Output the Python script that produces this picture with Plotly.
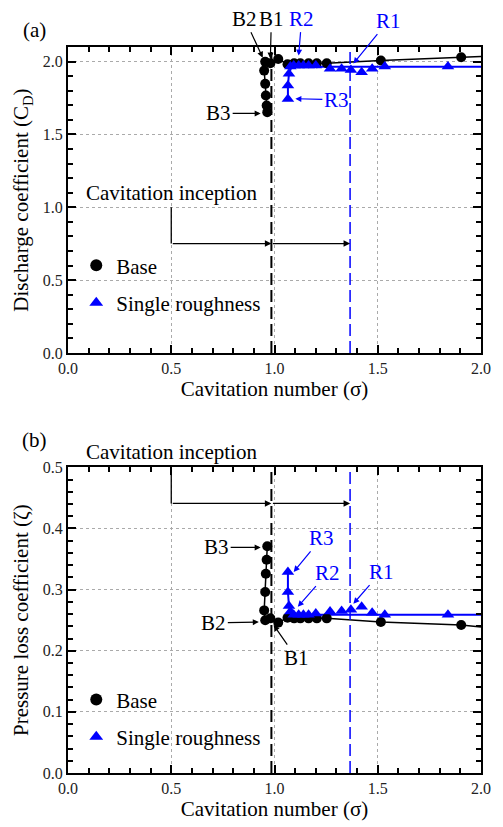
import plotly.graph_objects as go

# ---------------- data ----------------
base_sigma = [0.965, 0.962, 0.958, 0.955, 0.950, 0.955, 0.980, 1.018, 1.063, 1.095, 1.125, 1.165, 1.205, 1.253, 1.515, 1.904]
base_cd    = [1.653, 1.699, 1.767, 1.847, 1.938, 1.998, 1.988, 2.018, 1.982, 1.988, 1.988, 1.988, 1.988, 1.988, 2.007, 2.030]
base_zeta  = [0.371, 0.349, 0.326, 0.296, 0.266, 0.250, 0.253, 0.246, 0.254, 0.253, 0.253, 0.253, 0.253, 0.253, 0.247, 0.242]
base_tail_sigma = [1.904, 2.0]
base_tail_cd    = [2.030, 2.035]
base_tail_zeta  = [0.242, 0.239]

rough_sigma = [1.065, 1.065, 1.070, 1.077, 1.093, 1.117, 1.140, 1.165, 1.200, 1.269, 1.325, 1.370, 1.422, 1.473, 1.534, 1.840]
rough_cd    = [1.744, 1.836, 1.916, 1.966, 1.973, 1.973, 1.973, 1.973, 1.973, 1.950, 1.950, 1.943, 1.927, 1.950, 1.966, 1.966]
rough_zeta  = [0.329, 0.296, 0.273, 0.264, 0.259, 0.259, 0.259, 0.259, 0.261, 0.264, 0.265, 0.267, 0.272, 0.262, 0.259, 0.259]
rough_fit_sigma = [1.065, 1.065, 1.070, 1.080, 1.100, 1.300, 1.550, 2.0]
rough_fit_cd    = [1.744, 1.836, 1.916, 1.955, 1.964, 1.964, 1.964, 1.964]
rough_fit_zeta  = [0.329, 0.296, 0.273, 0.262, 0.259, 0.259, 0.259, 0.259]

inception_base = 0.985
inception_rough = 1.366

FONT = "Liberation Serif, DejaVu Serif, serif"
BLUE = "#0000FF"

fig = go.Figure()

# top panel
fig.add_trace(go.Scatter(x=base_sigma + base_tail_sigma[1:], y=base_cd + base_tail_cd[1:], mode="lines",
                         line=dict(color="black", width=1.5), showlegend=False, xaxis="x", yaxis="y"))
fig.add_trace(go.Scatter(x=rough_fit_sigma, y=rough_fit_cd, mode="lines", line=dict(color=BLUE, width=2),
                         showlegend=False, xaxis="x", yaxis="y"))
fig.add_trace(go.Scatter(x=base_sigma, y=base_cd, mode="markers", name="Base",
                         marker=dict(symbol="circle", size=10, color="black"),
                         legend="legend", legendgroup="a", xaxis="x", yaxis="y"))
fig.add_trace(go.Scatter(x=rough_sigma, y=rough_cd, mode="markers", name="Single roughness",
                         marker=dict(symbol="triangle-up", size=11, color=BLUE),
                         legend="legend", legendgroup="b", xaxis="x", yaxis="y"))

# bottom panel
fig.add_trace(go.Scatter(x=base_sigma + base_tail_sigma[1:], y=base_zeta + base_tail_zeta[1:], mode="lines",
                         line=dict(color="black", width=1.5), showlegend=False, xaxis="x2", yaxis="y2"))
fig.add_trace(go.Scatter(x=rough_fit_sigma, y=rough_fit_zeta, mode="lines", line=dict(color=BLUE, width=2),
                         showlegend=False, xaxis="x2", yaxis="y2"))
fig.add_trace(go.Scatter(x=base_sigma, y=base_zeta, mode="markers", name="Base",
                         marker=dict(symbol="circle", size=10, color="black"),
                         legend="legend2", legendgroup="c", xaxis="x2", yaxis="y2"))
fig.add_trace(go.Scatter(x=rough_sigma, y=rough_zeta, mode="markers", name="Single roughness",
                         marker=dict(symbol="triangle-up", size=11, color=BLUE),
                         legend="legend2", legendgroup="d", xaxis="x2", yaxis="y2"))

tickfont = dict(family=FONT, size=16, color="#222")
titlefont = dict(family=FONT, size=21, color="black")

def xaxis(anchor):
    return dict(range=[0, 2.0], dtick=0.5, tick0=0, tickformat=".1f", anchor=anchor,
                showline=True, linecolor="black", linewidth=2, mirror="ticks",
                ticks="inside", ticklen=8, tickwidth=1.5, tickcolor="black",
                minor=dict(dtick=0.1, ticks="inside", ticklen=5, tickwidth=1.5, tickcolor="black", showgrid=False),
                showgrid=True, gridcolor="#aaa", griddash="dot", gridwidth=1,
                zeroline=False, tickfont=tickfont,
                title=dict(text="Cavitation number (σ)", font=titlefont, standoff=3))

def yaxis(anchor, rng, dtick, mdtick, title, domain):
    return dict(range=rng, dtick=dtick, tick0=0, tickformat=".1f", anchor=anchor, domain=domain,
                showline=True, linecolor="black", linewidth=2, mirror="ticks",
                ticks="inside", ticklen=8, tickwidth=1.5, tickcolor="black",
                minor=dict(dtick=mdtick, ticks="inside", ticklen=5, tickwidth=1.5, tickcolor="black", showgrid=False),
                showgrid=True, gridcolor="#aaa", griddash="dot", gridwidth=1,
                zeroline=False, tickfont=tickfont,
                title=dict(text=title, font=titlefont, standoff=8))

shapes = []
for xr, yr, ylo, yhi in [("x", "y", 0, 2.1), ("x2", "y2", 0, 0.5)]:
    shapes.append(dict(type="line", xref=xr, yref=yr, x0=inception_base, x1=inception_base, y0=ylo, y1=yhi,
                       line=dict(color="black", width=2, dash="12px,5px")))
    shapes.append(dict(type="line", xref=xr, yref=yr, x0=inception_rough, x1=inception_rough, y0=ylo, y1=yhi,
                       line=dict(color=BLUE, width=1.5, dash="12px,5px")))
# cavitation inception bracket lines
shapes.append(dict(type="line", xref="x", yref="y", x0=0.5, x1=0.5, y0=1.0, y1=0.751, line=dict(color="black", width=1.3)))
shapes.append(dict(type="line", xref="x2", yref="y2", x0=0.5, x1=0.5, y0=0.5, y1=0.441, line=dict(color="black", width=1.3)))

ann = []
lab = dict(family=FONT, size=21)

def arrow_h(xr, yr, x0, x1, y):
    return dict(xref=xr, yref=yr, axref=xr, ayref=yr, x=x1, y=y, ax=x0, ay=y, text="",
                showarrow=True, arrowhead=2, arrowsize=1, arrowwidth=1.3, arrowcolor="black",
                standoff=0, startstandoff=0)

ann += [arrow_h("x", "y", 0.5, inception_base, 0.751), arrow_h("x", "y", inception_base, inception_rough, 0.751),
        arrow_h("x2", "y2", 0.5, inception_base, 0.441), arrow_h("x2", "y2", inception_base, inception_rough, 0.441)]
ann.append(dict(xref="x", yref="y", x=0.5, y=1.096, text="Cavitation inception", showarrow=False, font=dict(lab, color="black")))
ann.append(dict(xref="paper", yref="paper", x=0.25, y=0.442, xanchor="center", yanchor="middle",
                text="Cavitation inception", showarrow=False, font=dict(lab, color="black")))

def label(xr, yr, x, y, ax, ay, text, color):
    return dict(xref=xr, yref=yr, x=x, y=y, ax=ax, ay=ay, text=text, showarrow=True,
                arrowhead=2, arrowsize=1, arrowwidth=1.2, arrowcolor=color, standoff=0,
                font=dict(lab, color=color))

ann += [
    label("x", "y", 0.943, 2.027, -18, -39, "B2", "black"),
    label("x", "y", 0.980, 2.020, 1, -40, "B1", "black"),
    label("x", "y", 0.933, 1.644, -42, 0, "B3", "black"),
    label("x", "y", 1.117, 2.041, 3, -37, "R2", BLUE),
    label("x", "y", 1.382, 1.986, 35, -43, "R1", BLUE),
    label("x", "y", 1.101, 1.745, 41, 1, "R3", BLUE),
    label("x2", "y2", 0.933, 0.369, -44, 0, "B3", "black"),
    label("x2", "y2", 0.924, 0.247, -45, 1, "B2", "black"),
    label("x2", "y2", 0.996, 0.242, 23, 33, "B1", "black"),
    label("x2", "y2", 1.093, 0.329, 28, -34, "R3", BLUE),
    label("x2", "y2", 1.113, 0.272, 30, -34, "R2", BLUE),
    label("x2", "y2", 1.382, 0.277, 28, -32, "R1", BLUE),
]
ann.append(dict(xref="paper", yref="paper", x=-0.08, y=1.023, xanchor="center", yanchor="middle",
                text="(a)", showarrow=False, font=dict(lab, color="black")))
ann.append(dict(xref="paper", yref="paper", x=-0.08, y=0.459, xanchor="center", yanchor="middle",
                text="(b)", showarrow=False, font=dict(lab, color="black")))

legfont = dict(family=FONT, size=21, color="black")
fig.update_layout(
    width=495, height=819,
    margin=dict(l=60, r=12, t=39, b=54),
    plot_bgcolor="white", paper_bgcolor="white",
    font=dict(family=FONT),
    xaxis=xaxis("y"),
    yaxis=yaxis("x", [0, 2.1], 0.5, 0.1, "Discharge coefficient (C<sub>D</sub>)", [0.5785, 1.0]),
    xaxis2=xaxis("y2"),
    yaxis2=yaxis("x2", [0, 0.5], 0.1, 0.02, "Pressure loss coefficient (ζ)", [0.0, 0.421]),
    shapes=shapes,
    annotations=ann,
    legend=dict(x=0.02, y=0.727, xanchor="left", yanchor="top", bgcolor="rgba(0,0,0,0)",
                font=legfont, tracegroupgap=7, traceorder="grouped", itemsizing="constant"),
    legend2=dict(x=0.02, y=0.129, xanchor="left", yanchor="top", bgcolor="rgba(0,0,0,0)",
                 font=legfont, tracegroupgap=7, traceorder="grouped", itemsizing="constant"),
)

fig.write_html("out.html")
